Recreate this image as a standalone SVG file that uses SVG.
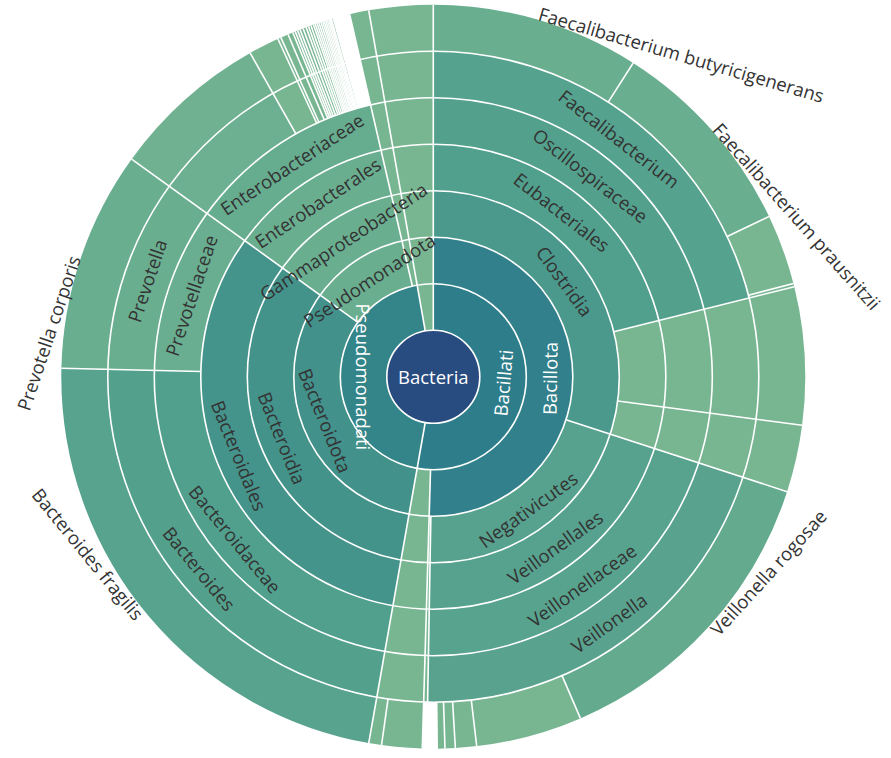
<svg xmlns="http://www.w3.org/2000/svg" width="891" height="758" viewBox="0 0 891 758">
<style>
.seg{fill:none;stroke-width:46.5px}
.sep{stroke:#fff;stroke-width:1.6px}
.ring{fill:none;stroke:#fff;stroke-width:1.6px}
.lbl{font-family:"Open Sans","Noto Sans","Liberation Sans",sans-serif;font-size:18.5px;fill:#333;dominant-baseline:central;text-anchor:middle}
.w{fill:#fff}
.st{text-anchor:start}
.en{text-anchor:end}
</style>
<rect width="891" height="758" fill="#fff"/>
<g transform="translate(433.3,376.7)">
<!-- ring 1 -->
<g id="n-bacillati"><circle class="seg" r="69.75" pathLength="360" stroke="#2e7d8a" stroke-dasharray="190 720" stroke-dashoffset="0" transform="rotate(-90)"/></g>
<g id="n-pseudomonadati"><circle class="seg" r="69.75" pathLength="360" stroke="#348589" stroke-dasharray="160 720" stroke-dashoffset="-190" transform="rotate(-90)"/></g>
<g id="n-k-other"><circle class="seg" r="69.75" pathLength="360" stroke="#78b692" stroke-dasharray="10 720" stroke-dashoffset="-350" transform="rotate(-90)"/></g>
<!-- ring 2 -->
<g id="n-bacillota"><circle class="seg" r="116.25" pathLength="360" stroke="#31808b" stroke-dasharray="181.7 720" stroke-dashoffset="0" transform="rotate(-90)"/></g>
<g id="n-p-other1"><circle class="seg" r="116.25" pathLength="360" stroke="#78b692" stroke-dasharray="8.3 720" stroke-dashoffset="-181.7" transform="rotate(-90)"/></g>
<g id="n-bacteroidota"><circle class="seg" r="116.25" pathLength="360" stroke="#42918b" stroke-dasharray="115.8 720" stroke-dashoffset="-190" transform="rotate(-90)"/></g>
<g id="n-pseudomonadota"><circle class="seg" r="116.25" pathLength="360" stroke="#6aae90" stroke-dasharray="41.2 720" stroke-dashoffset="-305.8" transform="rotate(-90)"/></g>
<g id="n-p-other2"><circle class="seg" r="116.25" pathLength="360" stroke="#78b692" stroke-dasharray="3 720" stroke-dashoffset="-347" transform="rotate(-90)"/></g>
<g id="n-p-other3"><circle class="seg" r="116.25" pathLength="360" stroke="#78b692" stroke-dasharray="10 720" stroke-dashoffset="-350" transform="rotate(-90)"/></g>
<!-- ring 3 -->
<g id="n-clostridia"><circle class="seg" r="162.75" pathLength="360" stroke="#4a998c" stroke-dasharray="108 720" stroke-dashoffset="0" transform="rotate(-90)"/></g>
<g id="n-negativicutes"><circle class="seg" r="162.75" pathLength="360" stroke="#57a28e" stroke-dasharray="73 720" stroke-dashoffset="-108" transform="rotate(-90)"/></g>
<g id="n-c-other1"><circle class="seg" r="162.75" pathLength="360" stroke="#78b692" stroke-dasharray="0.7 720" stroke-dashoffset="-181" transform="rotate(-90)"/></g>
<g id="n-c-other2"><circle class="seg" r="162.75" pathLength="360" stroke="#78b692" stroke-dasharray="8.3 720" stroke-dashoffset="-181.7" transform="rotate(-90)"/></g>
<g id="n-bacteroidia"><circle class="seg" r="162.75" pathLength="360" stroke="#44938b" stroke-dasharray="115.8 720" stroke-dashoffset="-190" transform="rotate(-90)"/></g>
<g id="n-gammaproteobacteria"><circle class="seg" r="162.75" pathLength="360" stroke="#6aae90" stroke-dasharray="41.2 720" stroke-dashoffset="-305.8" transform="rotate(-90)"/></g>
<g id="n-c-other3"><circle class="seg" r="162.75" pathLength="360" stroke="#78b692" stroke-dasharray="3 720" stroke-dashoffset="-347" transform="rotate(-90)"/></g>
<g id="n-c-other4"><circle class="seg" r="162.75" pathLength="360" stroke="#78b692" stroke-dasharray="10 720" stroke-dashoffset="-350" transform="rotate(-90)"/></g>
<!-- ring 4 -->
<g id="n-eubacteriales"><circle class="seg" r="209.25" pathLength="360" stroke="#51a08d" stroke-dasharray="76 720" stroke-dashoffset="0" transform="rotate(-90)"/></g>
<g id="n-o-other1"><circle class="seg" r="209.25" pathLength="360" stroke="#78b692" stroke-dasharray="21.5 720" stroke-dashoffset="-76" transform="rotate(-90)"/></g>
<g id="n-o-other2"><circle class="seg" r="209.25" pathLength="360" stroke="#78b692" stroke-dasharray="10.5 720" stroke-dashoffset="-97.5" transform="rotate(-90)"/></g>
<g id="n-veillonellales"><circle class="seg" r="209.25" pathLength="360" stroke="#57a28e" stroke-dasharray="73 720" stroke-dashoffset="-108" transform="rotate(-90)"/></g>
<g id="n-o-other3"><circle class="seg" r="209.25" pathLength="360" stroke="#78b692" stroke-dasharray="0.7 720" stroke-dashoffset="-181" transform="rotate(-90)"/></g>
<g id="n-o-other4"><circle class="seg" r="209.25" pathLength="360" stroke="#78b692" stroke-dasharray="8.3 720" stroke-dashoffset="-181.7" transform="rotate(-90)"/></g>
<g id="n-bacteroidales"><circle class="seg" r="209.25" pathLength="360" stroke="#45948b" stroke-dasharray="115.8 720" stroke-dashoffset="-190" transform="rotate(-90)"/></g>
<g id="n-enterobacterales"><circle class="seg" r="209.25" pathLength="360" stroke="#6aae90" stroke-dasharray="41.2 720" stroke-dashoffset="-305.8" transform="rotate(-90)"/></g>
<g id="n-o-other5"><circle class="seg" r="209.25" pathLength="360" stroke="#78b692" stroke-dasharray="3 720" stroke-dashoffset="-347" transform="rotate(-90)"/></g>
<g id="n-o-other6"><circle class="seg" r="209.25" pathLength="360" stroke="#78b692" stroke-dasharray="10 720" stroke-dashoffset="-350" transform="rotate(-90)"/></g>
<!-- ring 5 -->
<g id="n-oscillospiraceae"><circle class="seg" r="255.75" pathLength="360" stroke="#53a18d" stroke-dasharray="76 720" stroke-dashoffset="0" transform="rotate(-90)"/></g>
<g id="n-f-other1"><circle class="seg" r="255.75" pathLength="360" stroke="#78b692" stroke-dasharray="21.5 720" stroke-dashoffset="-76" transform="rotate(-90)"/></g>
<g id="n-f-other2"><circle class="seg" r="255.75" pathLength="360" stroke="#78b692" stroke-dasharray="10.5 720" stroke-dashoffset="-97.5" transform="rotate(-90)"/></g>
<g id="n-veillonellaceae"><circle class="seg" r="255.75" pathLength="360" stroke="#58a38e" stroke-dasharray="73 720" stroke-dashoffset="-108" transform="rotate(-90)"/></g>
<g id="n-f-other3"><circle class="seg" r="255.75" pathLength="360" stroke="#78b692" stroke-dasharray="0.7 720" stroke-dashoffset="-181" transform="rotate(-90)"/></g>
<g id="n-f-other4"><circle class="seg" r="255.75" pathLength="360" stroke="#78b692" stroke-dasharray="8.3 720" stroke-dashoffset="-181.7" transform="rotate(-90)"/></g>
<g id="n-bacteroidaceae"><circle class="seg" r="255.75" pathLength="360" stroke="#50a08d" stroke-dasharray="81.3 720" stroke-dashoffset="-190" transform="rotate(-90)"/></g>
<g id="n-prevotellaceae"><circle class="seg" r="255.75" pathLength="360" stroke="#69ae90" stroke-dasharray="34.5 720" stroke-dashoffset="-271.3" transform="rotate(-90)"/></g>
<g id="n-enterobacteriaceae"><circle class="seg" r="255.75" pathLength="360" stroke="#66ac8f" stroke-dasharray="41.2 720" stroke-dashoffset="-305.8" transform="rotate(-90)"/></g>
<g id="n-f-other5"><circle class="seg" r="255.75" pathLength="360" stroke="#78b692" stroke-dasharray="3 720" stroke-dashoffset="-347" transform="rotate(-90)"/></g>
<g id="n-f-other6"><circle class="seg" r="255.75" pathLength="360" stroke="#78b692" stroke-dasharray="10 720" stroke-dashoffset="-350" transform="rotate(-90)"/></g>
<!-- ring 6 -->
<g id="n-faecalibacterium"><circle class="seg" r="302.25" pathLength="360" stroke="#55a28e" stroke-dasharray="76 720" stroke-dashoffset="0" transform="rotate(-90)"/></g>
<g id="n-g-other1"><circle class="seg" r="302.25" pathLength="360" stroke="#78b692" stroke-dasharray="21.5 720" stroke-dashoffset="-76" transform="rotate(-90)"/></g>
<g id="n-g-other2"><circle class="seg" r="302.25" pathLength="360" stroke="#78b692" stroke-dasharray="10.5 720" stroke-dashoffset="-97.5" transform="rotate(-90)"/></g>
<g id="n-veillonella"><circle class="seg" r="302.25" pathLength="360" stroke="#59a38e" stroke-dasharray="73 720" stroke-dashoffset="-108" transform="rotate(-90)"/></g>
<g id="n-g-other3"><circle class="seg" r="302.25" pathLength="360" stroke="#78b692" stroke-dasharray="0.7 720" stroke-dashoffset="-181" transform="rotate(-90)"/></g>
<g id="n-g-other4"><circle class="seg" r="302.25" pathLength="360" stroke="#78b692" stroke-dasharray="8.3 720" stroke-dashoffset="-181.7" transform="rotate(-90)"/></g>
<g id="n-bacteroides"><circle class="seg" r="302.25" pathLength="360" stroke="#53a18d" stroke-dasharray="81.3 720" stroke-dashoffset="-190" transform="rotate(-90)"/></g>
<g id="n-prevotella"><circle class="seg" r="302.25" pathLength="360" stroke="#6aae90" stroke-dasharray="34.5 720" stroke-dashoffset="-271.3" transform="rotate(-90)"/></g>
<g id="n-g-entero1"><circle class="seg" r="302.25" pathLength="360" stroke="#6db091" stroke-dasharray="24.7 720" stroke-dashoffset="-305.8" transform="rotate(-90)"/></g>
<g id="n-g-entero-small"><circle class="seg" r="302.25" pathLength="360" stroke="#78b692" stroke-dasharray="13.9 720" stroke-dashoffset="-330.5" transform="rotate(-90)"/></g>
<g id="n-g-other5"><circle class="seg" r="302.25" pathLength="360" stroke="#78b692" stroke-dasharray="3 720" stroke-dashoffset="-347" transform="rotate(-90)"/></g>
<g id="n-g-other6"><circle class="seg" r="302.25" pathLength="360" stroke="#78b692" stroke-dasharray="10 720" stroke-dashoffset="-350" transform="rotate(-90)"/></g>
<!-- ring 7 -->
<g id="n-f-butyricigenerans"><circle class="seg" r="348.75" pathLength="360" stroke="#6aae90" stroke-dasharray="32.5 720" stroke-dashoffset="0" transform="rotate(-90)"/></g>
<g id="n-f-prausnitzii"><circle class="seg" r="348.75" pathLength="360" stroke="#6aae90" stroke-dasharray="32 720" stroke-dashoffset="-32.5" transform="rotate(-90)"/></g>
<g id="n-s-other1"><circle class="seg" r="348.75" pathLength="360" stroke="#78b692" stroke-dasharray="11 720" stroke-dashoffset="-64.5" transform="rotate(-90)"/></g>
<g id="n-s-other2"><circle class="seg" r="348.75" pathLength="360" stroke="#78b692" stroke-dasharray="0.5 720" stroke-dashoffset="-75.5" transform="rotate(-90)"/></g>
<g id="n-s-other3"><circle class="seg" r="348.75" pathLength="360" stroke="#78b692" stroke-dasharray="21.5 720" stroke-dashoffset="-76" transform="rotate(-90)"/></g>
<g id="n-s-other4"><circle class="seg" r="348.75" pathLength="360" stroke="#78b692" stroke-dasharray="10.5 720" stroke-dashoffset="-97.5" transform="rotate(-90)"/></g>
<g id="n-v-rogosae"><circle class="seg" r="348.75" pathLength="360" stroke="#63aa8f" stroke-dasharray="48.7 720" stroke-dashoffset="-108" transform="rotate(-90)"/></g>
<g id="n-s-other5"><circle class="seg" r="348.75" pathLength="360" stroke="#78b692" stroke-dasharray="22.7 720" stroke-dashoffset="-156.7" transform="rotate(-90)"/></g>
<g id="n-s-other6"><circle class="seg" r="348.75" pathLength="360" stroke="#78b692" stroke-dasharray="8.3 720" stroke-dashoffset="-181.7" transform="rotate(-90)"/></g>
<g id="n-b-fragilis"><circle class="seg" r="348.75" pathLength="360" stroke="#57a38e" stroke-dasharray="81.3 720" stroke-dashoffset="-190" transform="rotate(-90)"/></g>
<g id="n-p-corporis"><circle class="seg" r="348.75" pathLength="360" stroke="#6aae90" stroke-dasharray="34.5 720" stroke-dashoffset="-271.3" transform="rotate(-90)"/></g>
<g id="n-s-entero1"><circle class="seg" r="348.75" pathLength="360" stroke="#70b191" stroke-dasharray="24.7 720" stroke-dashoffset="-305.8" transform="rotate(-90)"/></g>
<g id="n-s-entero-small"><circle class="seg" r="348.75" pathLength="360" stroke="#78b692" stroke-dasharray="13.9 720" stroke-dashoffset="-330.5" transform="rotate(-90)"/></g>
<g id="n-s-other7"><circle class="seg" r="348.75" pathLength="360" stroke="#78b692" stroke-dasharray="3 720" stroke-dashoffset="-347" transform="rotate(-90)"/></g>
<g id="n-s-other8"><circle class="seg" r="348.75" pathLength="360" stroke="#78b692" stroke-dasharray="10 720" stroke-dashoffset="-350" transform="rotate(-90)"/></g>

<!-- borders -->
<g id="borders">
<circle class="ring" r="93"/>
<circle class="ring" r="139.5"/>
<circle class="ring" r="186"/>
<circle class="ring" r="232.5"/>
<circle class="ring" r="279"/>
<circle class="ring" r="325.5"/>
<line class="sep" y1="-46.5" y2="-372" transform="rotate(0)"/>
<line class="sep" y1="-46.5" y2="-372" transform="rotate(190)"/>
<line class="sep" y1="-46.5" y2="-372" transform="rotate(350)"/>
<line class="sep" y1="-93" y2="-372" transform="rotate(181.7)"/>
<line class="sep" y1="-93" y2="-372" transform="rotate(305.8)"/>
<line class="sep" y1="-93" y2="-372" transform="rotate(347)"/>
<line class="sep" y1="-139.5" y2="-372" transform="rotate(108)"/>
<line class="sep" y1="-139.5" y2="-325.5" transform="rotate(181)"/>
<line class="sep" y1="-186" y2="-372" transform="rotate(76)"/>
<line class="sep" y1="-186" y2="-372" transform="rotate(97.5)"/>
<line class="sep" y1="-232.5" y2="-372" transform="rotate(271.3)"/>
<line class="sep" y1="-279" y2="-372" transform="rotate(330.5)"/>
<line class="sep" y1="-325.5" y2="-372" transform="rotate(32.5)"/>
<line class="sep" y1="-325.5" y2="-372" transform="rotate(64.5)"/>
<line class="sep" y1="-325.5" y2="-372" transform="rotate(75.5)"/>
<line class="sep" y1="-325.5" y2="-372" transform="rotate(156.7)"/>
<line class="sep" y1="-325.5" y2="-372" transform="rotate(173.3)"/>
<line class="sep" y1="-325.5" y2="-372" transform="rotate(176.6)"/>
<line class="sep" y1="-325.5" y2="-372" transform="rotate(178.2)"/>
<line class="sep" y1="-325.5" y2="-372" transform="rotate(179.4)"/>
<line class="sep" y1="-325.5" y2="-372" transform="rotate(188)"/>
<line class="sep" y1="-279" y2="-372" transform="rotate(335.3)"/>
<line class="sep" y1="-279" y2="-372" transform="rotate(335.8)"/>
<line class="sep" y1="-279" y2="-372" transform="rotate(337)"/>
<line class="sep" y1="-279" y2="-372" transform="rotate(337.8)"/>
<line class="sep" y1="-279" y2="-372" transform="rotate(338.2)"/>
<line class="sep" y1="-279" y2="-372" transform="rotate(338.6)"/>
<line class="sep" y1="-279" y2="-372" transform="rotate(339)"/>
<line class="sep" y1="-279" y2="-372" transform="rotate(339.5)"/>
<line class="sep" y1="-279" y2="-372" transform="rotate(340)"/>
<line class="sep" y1="-279" y2="-372" transform="rotate(340.4)"/>
<line class="sep" y1="-279" y2="-372" transform="rotate(340.8)"/>
<line class="sep" y1="-279" y2="-372" transform="rotate(341.2)"/>
<line class="sep" y1="-279" y2="-372" transform="rotate(341.5)"/>
<line class="sep" y1="-279" y2="-372" transform="rotate(341.8)"/>
<line class="sep" y1="-279" y2="-372" transform="rotate(342.1)"/>
<line class="sep" y1="-279" y2="-372" transform="rotate(342.4)"/>
<line class="sep" y1="-279" y2="-372" transform="rotate(342.7)"/>
<line class="sep" y1="-279" y2="-372" transform="rotate(342.95)"/>
<line class="sep" y1="-279" y2="-372" transform="rotate(343.2)"/>
<line class="sep" y1="-279" y2="-372" transform="rotate(343.45)"/>
<line class="sep" y1="-279" y2="-372" transform="rotate(343.7)"/>
<line class="sep" y1="-279" y2="-372" transform="rotate(343.9)"/>
<line class="sep" y1="-279" y2="-372" transform="rotate(344.1)"/>
<line class="sep" y1="-279" y2="-372" transform="rotate(344.4)"/>
</g>

<g id="n-bacteria"><circle r="46.5" fill="#284b80" stroke="#fff" stroke-width="1.6"/><text class="lbl w">Bacteria</text></g>

<!-- labels -->
<g id="labels">
<text class="lbl w" transform="rotate(95) translate(0,-69.75) rotate(180)">Bacillati</text>
<text class="lbl w" transform="rotate(269.9) translate(0,-69.75) rotate(180)">Pseudomonadati</text>
<text class="lbl w" transform="rotate(90.85) translate(0,-116.25) rotate(180)">Bacillota</text>
<text class="lbl" transform="rotate(247.9) translate(0,-116.25) rotate(180)">Bacteroidota</text>
<text class="lbl" transform="rotate(326.4) translate(0,-116.25)">Pseudomonadota</text>
<text class="lbl" transform="rotate(54) translate(0,-162.75)">Clostridia</text>
<text class="lbl" transform="rotate(144.5) translate(0,-162.75) rotate(180)">Negativicutes</text>
<text class="lbl" transform="rotate(247.9) translate(0,-162.75) rotate(180)">Bacteroidia</text>
<text class="lbl" transform="rotate(326.4) translate(0,-162.75)">Gammaproteobacteria</text>
<text class="lbl" transform="rotate(38) translate(0,-209.25)">Eubacteriales</text>
<text class="lbl" transform="rotate(144.5) translate(0,-209.25) rotate(180)">Veillonellales</text>
<text class="lbl" transform="rotate(247.9) translate(0,-209.25) rotate(180)">Bacteroidales</text>
<text class="lbl" transform="rotate(326.4) translate(0,-209.25)">Enterobacterales</text>
<text class="lbl" transform="rotate(38) translate(0,-255.75)">Oscillospiraceae</text>
<text class="lbl" transform="rotate(144.5) translate(0,-255.75) rotate(180)">Veillonellaceae</text>
<text class="lbl" transform="rotate(230.65) translate(0,-255.75) rotate(180)">Bacteroidaceae</text>
<text class="lbl" transform="rotate(288.55) translate(0,-255.75)">Prevotellaceae</text>
<text class="lbl" transform="rotate(326.4) translate(0,-255.75)">Enterobacteriaceae</text>
<text class="lbl" transform="rotate(38) translate(0,-302.25)">Faecalibacterium</text>
<text class="lbl" transform="rotate(144.5) translate(0,-302.25) rotate(180)">Veillonella</text>
<text class="lbl" transform="rotate(230.65) translate(0,-302.25) rotate(180)">Bacteroides</text>
<text class="lbl" transform="rotate(288.55) translate(0,-302.25)">Prevotella</text>
<text class="lbl st" transform="rotate(16.25) translate(0,-379)">Faecalibacterium butyricigenerans</text>
<text class="lbl st" transform="rotate(48.5) translate(0,-379)">Faecalibacterium prausnitzii</text>
<text class="lbl st" transform="rotate(132.35) translate(0,-379) rotate(180)">Veillonella rogosae</text>
<text class="lbl en" transform="rotate(230.65) translate(0,-379) rotate(180)">Bacteroides fragilis</text>
<text class="lbl en" transform="rotate(288.55) translate(0,-379)">Prevotella corporis</text>
</g>
</g>
</svg>
